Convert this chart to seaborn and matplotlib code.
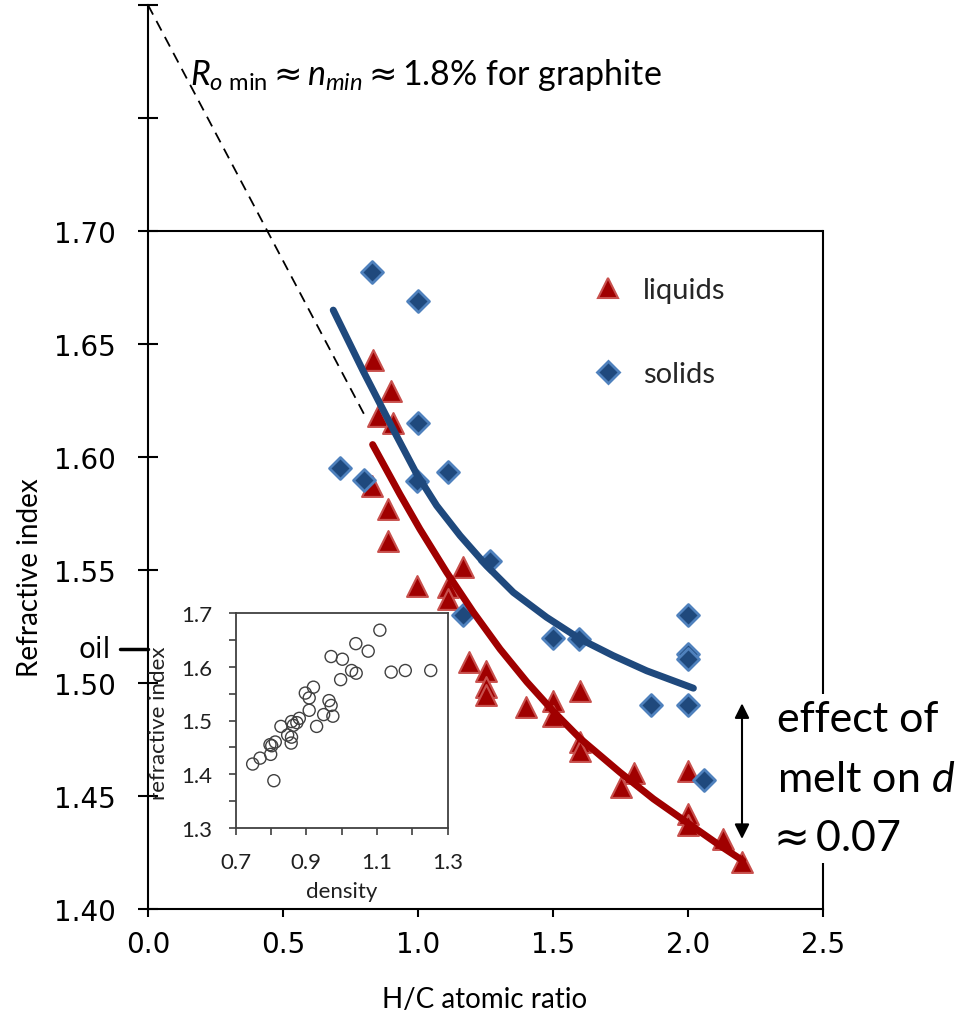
import numpy as np
import pandas as pd
import matplotlib
matplotlib.use("Agg")
import matplotlib.pyplot as plt
from matplotlib.lines import Line2D
import seaborn as sns

# ---------------- data ----------------
liq_x = [0.833, 0.899, 0.853, 0.908, 0.831, 0.89, 0.89, 0.997, 1.165, 1.112, 1.112,
         1.19, 1.25, 1.25, 1.25, 1.40, 1.50, 1.50, 1.60, 1.60, 1.60, 1.80, 1.75,
         2.0, 2.0, 2.0, 2.13, 2.20]
liq_y = [1.643, 1.629, 1.618, 1.615, 1.587, 1.577, 1.563, 1.543, 1.5512, 1.5423, 1.5372,
         1.5092, 1.5054, 1.4982, 1.4945, 1.4892, 1.4922, 1.4855, 1.4966, 1.474, 1.470, 1.460, 1.454,
         1.461, 1.442, 1.437, 1.431, 1.421]

sol_x = [0.83, 1.0, 1.0, 0.71, 0.80, 0.995, 1.112, 1.267, 1.165, 1.499, 1.597,
         2.0, 2.0, 2.0, 1.862, 2.0, 2.06]
sol_y = [1.682, 1.669, 1.615, 1.595, 1.590, 1.5895, 1.5932, 1.5541, 1.530, 1.520, 1.5195,
         1.530, 1.5128, 1.5106, 1.4903, 1.4903, 1.457]

solid_fit_x = [0.686, 0.797, 0.909, 0.995, 1.069, 1.156, 1.254, 1.353, 1.476, 1.600,
               1.723, 1.847, 2.020]
solid_fit_y = [1.665, 1.638, 1.612, 1.5925, 1.5785, 1.5652, 1.5519, 1.5401, 1.5291,
               1.5195, 1.5121, 1.5054, 1.4977]

liquid_fit_x = [0.832, 0.933, 1.007, 1.106, 1.205, 1.304, 1.403, 1.501, 1.600, 1.748,
                1.872, 1.995, 2.119, 2.203]
liquid_fit_y = [1.6055, 1.5835, 1.5681, 1.549, 1.5313, 1.515, 1.5005, 1.4875, 1.4755,
                1.4605, 1.4487, 1.4384, 1.428, 1.4214]

graphite_x = [0.0, 0.80]
graphite_y = [1.80, 1.619]

dens_x = [1.108, 1.040, 1.075, 0.970, 1.002, 1.028, 1.041, 0.997, 1.140, 1.180, 1.252,
          0.920, 0.897, 0.908, 0.964, 0.970, 0.908, 0.949, 0.975, 0.929, 0.880, 0.873,
          0.858, 0.863, 0.828, 0.847, 0.858, 0.857, 0.812, 0.797, 0.802, 0.799, 0.769,
          0.748, 0.808]
dens_ri = [1.668, 1.643, 1.629, 1.619, 1.614, 1.593, 1.588, 1.576, 1.590, 1.593, 1.593,
           1.562, 1.551, 1.542, 1.537, 1.528, 1.519, 1.511, 1.508, 1.489, 1.504, 1.496,
           1.498, 1.491, 1.489, 1.473, 1.469, 1.458, 1.460, 1.455, 1.453, 1.437, 1.430,
           1.419, 1.388]

main_yticks = [1.40, 1.45, 1.50, 1.55, 1.60, 1.65, 1.70, 1.75, 1.80]
main_xticks = [0.0, 0.5, 1.0, 1.5, 2.0, 2.5]
oil_level = 1.515

# ---------------- style ----------------
sns.set_theme(style="white")
plt.rcParams["font.family"] = ["Lato", "DejaVu Sans"]
plt.rcParams["mathtext.fontset"] = "custom"
plt.rcParams["mathtext.rm"] = "Lato"
plt.rcParams["mathtext.it"] = "Lato:italic"
plt.rcParams["mathtext.sf"] = "DejaVu Sans"

RED = "#A00000"
RED_EDGE = "#C8504D"
BLUE = "#1F497D"
BLUE_EDGE = "#4F81BD"

W, H = 972, 1020
fig = plt.figure(figsize=(W / 100, H / 100), dpi=100)
fig.patch.set_facecolor("white")

ax = fig.add_axes([148 / W, 1 - 910 / H, 675 / W, 904 / H])
ax.set_facecolor("white")

liq = pd.DataFrame({"hc": liq_x, "n": liq_y})
sol = pd.DataFrame({"hc": sol_x, "n": sol_y})

sns.scatterplot(data=liq, x="hc", y="n", marker="^", s=225, color=RED,
                edgecolor=RED_EDGE, linewidth=1.5, ax=ax, zorder=3, legend=False)
sns.scatterplot(data=sol, x="hc", y="n", marker="D", s=125, color=BLUE,
                edgecolor=BLUE_EDGE, linewidth=2.0, ax=ax, zorder=3, legend=False)

sns.lineplot(x=solid_fit_x, y=solid_fit_y, color=BLUE, lw=5, ax=ax, sort=False,
             estimator=None, zorder=4)
sns.lineplot(x=liquid_fit_x, y=liquid_fit_y, color=RED, lw=5, ax=ax, sort=False,
             estimator=None, zorder=4)
for ln in ax.lines:
    ln.set_solid_joinstyle("round")

ax.plot(graphite_x, graphite_y, color="black", lw=1.3, ls=(0, (6, 4)), clip_on=False, zorder=2)

ax.set_xlim(0, 2.5)
ax.set_ylim(1.40, 1.80)

for s in ["left", "bottom", "right"]:
    ax.spines[s].set_color("black")
    ax.spines[s].set_linewidth(1.5)
ax.spines["top"].set_visible(False)
ax.spines["right"].set_bounds(1.40, 1.70)
ax.axhline(1.70, color="black", lw=1.5, zorder=1)

ax.set_yticks(main_yticks)
ax.set_yticklabels([f"{v:.2f}" if v <= 1.7001 else "" for v in main_yticks])
ax.set_xticks(main_xticks)
ax.set_xticklabels([f"{v:.1f}" for v in main_xticks])
ax.tick_params(axis="y", left=True, right=False, direction="inout", length=14,
               width=1.5, labelsize=20, pad=16, color="black")
ax.tick_params(axis="x", bottom=True, top=False, direction="out", length=6,
               width=1.5, labelsize=20, pad=9, color="black")
for lbl in ax.get_xticklabels() + ax.get_yticklabels():
    lbl.set_fontfamily("DejaVu Sans")
    lbl.set_color("black")
ax.set_xlabel("")
ax.set_ylabel("")

# oil marker
ytr = ax.get_yaxis_transform()
ax.plot([-0.042, 0], [oil_level, oil_level], transform=ytr, clip_on=False,
        color="black", lw=2.5)
ax.text(-0.055, oil_level, "oil", transform=ytr, ha="right", va="center",
        fontsize=20, family="DejaVu Sans", color="black")

fig.text(485 / W, 1 - 1000 / H, "H/C atomic ratio", ha="center", va="center",
         fontsize=20, color="black")
fig.text(30 / W, 1 - 578 / H, "Refractive index", ha="center", va="center",
         rotation=90, fontsize=20, color="black")

ax.text(0.155, 1.7695,
        r"$R_{o\ \mathrm{min}}\mathsf{\approx}n_{min}\mathsf{\approx}$1.8% for graphite",
        fontsize=24.5, va="center", ha="left", color="black")

# legend
handles = [
    Line2D([], [], ls="", marker="^", markersize=15, markerfacecolor=RED,
           markeredgecolor=RED_EDGE, markeredgewidth=1.5),
    Line2D([], [], ls="", marker="D", markersize=11, markerfacecolor=BLUE,
           markeredgecolor=BLUE_EDGE, markeredgewidth=2.0),
]
ax.legend(handles, ["liquids", "solids"], loc="center left",
          bbox_to_anchor=((593 - 148) / 675, (910 - 333) / 904), frameon=False,
          fontsize=21, handlelength=1.0, handletextpad=0.7, labelspacing=2.0,
          borderaxespad=0, borderpad=0)

# melt effect annotation
ax.annotate("", xy=(2.2, 1.491), xytext=(2.2, 1.431),
            arrowprops=dict(arrowstyle="<|-|>", color="black", lw=1.5,
                            mutation_scale=22, shrinkA=0, shrinkB=0))
ax.text(2.33, 1.4925, "effect of\nmelt on $d$\n$\\!\\!\\mathsf{\\approx}$0.07", fontsize=31,
        va="top", ha="left", linespacing=1.7, color="black", clip_on=False, zorder=5,
        bbox=dict(facecolor="white", edgecolor="none", pad=4))

# ---------------- inset ----------------
ax2 = fig.add_axes([235.7 / W, 1 - 829 / H, 212 / W, 215 / H])
ax2.set_facecolor("white")
sns.scatterplot(x=dens_x, y=dens_ri, ax=ax2, marker="o", s=75, facecolors="none",
                edgecolor="#404040", linewidth=1.0, legend=False)
ax2.set_xlim(0.7, 1.3)
ax2.set_ylim(1.3, 1.7)
ax2.set_xticks([0.7, 0.9, 1.1, 1.3])
ax2.set_xticklabels(["0.7", "0.9", "1.1", "1.3"])
ax2.set_xticks([0.8, 1.0, 1.2], minor=True)
ax2.set_yticks([1.3, 1.4, 1.5, 1.6, 1.7])
ax2.set_yticklabels(["1.3", "1.4", "1.5", "1.6", "1.7"])
ax2.set_yticks([1.35, 1.45, 1.55, 1.65], minor=True)
ax2.tick_params(which="both", left=True, bottom=True, direction="out", length=5,
                width=1.2, color="#404040", labelsize=16, labelcolor="#202020")
ax2.tick_params(axis="x", which="major", pad=12)
ax2.tick_params(axis="y", which="major", pad=12)
for s in ax2.spines.values():
    s.set_visible(True)
    s.set_color("#404040")
    s.set_linewidth(1.3)
ax2.set_xlabel("")
ax2.set_ylabel("")
ax2.text(0.5, -0.293, "density", transform=ax2.transAxes, ha="center", va="center",
         fontsize=16, color="#202020")
ax2.text(-0.36, 0.49, "refractive index", transform=ax2.transAxes, ha="center",
         va="center", rotation=90, fontsize=16, color="#202020")

fig.savefig("out.png", dpi=100, facecolor="white")
